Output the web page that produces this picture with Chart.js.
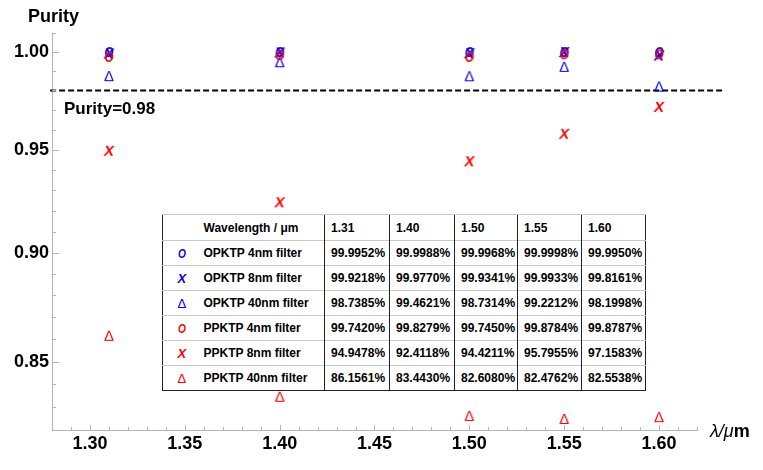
<!DOCTYPE html>
<html>
<head>
<meta charset="utf-8">
<script src="https://cdn.jsdelivr.net/npm/chart.js@4.4.1/dist/chart.umd.min.js"></script>
<style>
  body { margin: 0; background: #fff; }
  #wrap { position: relative; width: 763px; height: 470px; }
  #tbl {
    position: absolute; left: 162px; top: 214px;
    border-collapse: collapse; table-layout: fixed; background: #fff;
    font: bold 12px "Liberation Sans", Arial, sans-serif; color: #000;
    border: 1.5px solid #222;
  }
  #tbl td {
    height: 24px; padding: 0 0 0 6px; white-space: nowrap; overflow: hidden;
    border-top: 1px solid #c8c8c8; border-left: 1.5px solid #222;
  }
  #tbl tr.head td { height: 25px; }
  #tbl td.sym { padding: 0; text-align: center; border-left: none; font-size: 13px; }
  #tbl td.sym span { display: inline-block; }
  #tbl td.name { padding-left: 3px; border-left: none; }
</style>
</head>
<body>
<div id="wrap">
  <canvas id="chart" width="763" height="470"></canvas>
  <table id="tbl">
    <colgroup>
      <col style="width:38px"><col style="width:124px"><col style="width:65px">
      <col style="width:65px"><col style="width:63px"><col style="width:64px"><col style="width:64px">
    </colgroup>
    <tbody id="tbody"></tbody>
  </table>
</div>
<script>
// wavelengths in um
const wavelengths = [1.31, 1.40, 1.50, 1.55, 1.60]

// purity in percent
const opktp4 = [99.9952, 99.9988, 99.9968, 99.9998, 99.9950]
const opktp8 = [99.9218, 99.9770, 99.9341, 99.9933, 99.8161]
const opktp40 = [98.7385, 99.4621, 98.7314, 99.2212, 98.1998]
const ppktp4 = [99.7420, 99.8279, 99.7450, 99.8784, 99.8787]
const ppktp8 = [94.9478, 92.4118, 94.4211, 95.7955, 97.1583]
const ppktp40 = [86.1561, 83.4430, 82.6080, 82.4762, 82.5538]

const seriesNames = ['OPKTP 4nm filter', 'OPKTP 8nm filter', 'OPKTP 40nm filter',
                     'PPKTP 4nm filter', 'PPKTP 8nm filter', 'PPKTP 40nm filter']
const seriesGlyphs = ['O', 'X', 'Δ', 'O', 'X', 'Δ']
const seriesColors = ['#0000ff', '#0000ff', '#0000ff', '#ff0000', '#ff0000', '#ff0000']
const seriesValues = [opktp4, opktp8, opktp40, ppktp4, ppktp8, ppktp40]

// dashed purity limit
const limitValue = 0.98
const limitX = [1.279, 1.634]

const xTickLabels = ['1.30', '1.35', '1.40', '1.45', '1.50', '1.55', '1.60']
const yTickLabels = ['0.85', '0.90', '0.95', '1.00']

const FONT = '"Liberation Sans", Arial, sans-serif'

// marker glyph drawn once into a small canvas, used as pointStyle
const glyph = (ch, color) => {
    const c = document.createElement('canvas')
    c.width = 20
    c.height = 20
    const g = c.getContext('2d')
    g.fillStyle = color
    g.textAlign = 'center'
    if (ch === 'Δ') {
        g.font = '15px ' + FONT
        g.fillText(ch, 10, 15.3)
    } else if (ch === 'O') {
        g.font = 'italic bold 15px ' + FONT
        g.translate(10, 0)
        g.scale(0.78, 1)
        g.fillText(ch, 0, 15.3)
    } else {
        g.font = 'italic bold 15px ' + FONT
        g.fillText(ch, 10, 15.3)
    }
    return c
}

const datasets = seriesValues.map((vals, i) => ({
    label: seriesNames[i],
    data: vals.map((v, j) => ({ x: wavelengths[j], y: v / 100 })),
    pointStyle: glyph(seriesGlyphs[i], seriesColors[i]),
    pointRadius: 5,
    order: seriesColors[i] === '#ff0000' ? 0 : 1
}))

datasets.push({
    label: 'limit',
    data: limitX.map(x => ({ x: x, y: limitValue })),
    showLine: true,
    borderColor: '#000',
    borderWidth: 2,
    borderDash: [6, 3],
    pointRadius: 0,
    clip: false,
    order: 3
})

// tick positions every 0.01
const xTicks = []
for (let i = 128; i <= 162; i++) xTicks.push(i / 100)
const yTicks = []
for (let i = 83; i <= 101; i++) yTicks.push(i / 100)

const axisDecor = {
    id: 'axisDecor',
    afterDraw(chart) {
        const { ctx, chartArea: a, scales: { x, y } } = chart
        ctx.save()
        ctx.strokeStyle = '#b4b4b4'
        ctx.lineWidth = 1
        ctx.beginPath()
        y.ticks.forEach(t => {
            const py = Math.round(y.getPixelForValue(t.value)) + 0.5
            ctx.moveTo(a.left, py)
            ctx.lineTo(a.left + (t.label ? 7 : 4), py)
        })
        x.ticks.forEach(t => {
            const px = Math.round(x.getPixelForValue(t.value)) + 0.5
            ctx.moveTo(px, a.bottom)
            ctx.lineTo(px, a.bottom - (t.label ? 5 : 3))
        })
        ctx.stroke()

        ctx.fillStyle = '#000'
        ctx.font = 'bold 18px ' + FONT
        ctx.fillText('Purity', 28, 22)
        ctx.font = 'bold 17px ' + FONT
        ctx.fillText('Purity=0.98', 64, 114)

        ctx.font = 'italic 18px ' + FONT
        ctx.fillText('λ/μ', 710, 437)
        const w = ctx.measureText('λ/μ').width
        ctx.font = 'bold 18px ' + FONT
        ctx.fillText('m', 710 + w, 437)
        ctx.restore()
    }
}

new Chart(document.getElementById('chart'), {
    type: 'scatter',
    data: { datasets: datasets },
    options: {
        responsive: false,
        animation: false,
        layout: { padding: { top: 33, right: 66, left: 0, bottom: 0 } },
        plugins: { legend: { display: false }, tooltip: { enabled: false } },
        scales: {
            x: {
                type: 'linear',
                min: 1.28,
                max: 1.62,
                afterBuildTicks: s => { s.ticks = xTicks.map(v => ({ value: v })) },
                afterFit: s => { s.height = 40 },
                grid: { display: false, drawTicks: false },
                border: { color: '#b4b4b4', width: 1 },
                ticks: {
                    autoSkip: false,
                    maxRotation: 0,
                    padding: 3,
                    color: '#000',
                    font: { family: FONT, size: 18, weight: 'bold' },
                    callback: v => xTickLabels.includes(v.toFixed(2)) ? v.toFixed(2) : ''
                }
            },
            y: {
                type: 'logarithmic',
                min: 0.821,
                max: 1.01,
                afterBuildTicks: s => { s.ticks = yTicks.map(v => ({ value: v })) },
                afterFit: s => { s.width = 52 },
                grid: { display: false, drawTicks: false },
                border: { color: '#b4b4b4', width: 1 },
                ticks: {
                    autoSkip: false,
                    padding: 3,
                    color: '#000',
                    font: { family: FONT, size: 18, weight: 'bold' },
                    callback: v => yTickLabels.includes(v.toFixed(2)) ? v.toFixed(2) : ''
                }
            }
        }
    },
    plugins: [axisDecor]
})

// inset table
const tbody = document.getElementById('tbody')
let html = '<tr class="head"><td class="sym"></td><td class="name">Wavelength / μm</td>'
wavelengths.forEach(w => { html += '<td>' + w.toFixed(2) + '</td>' })
html += '</tr>'
seriesValues.forEach((vals, i) => {
    let style = 'font-style:italic'
    if (seriesGlyphs[i] === 'Δ') style = 'font-weight:normal'
    if (seriesGlyphs[i] === 'O') style += ';transform:scaleX(0.78)'
    html += '<tr><td class="sym" style="color:' + seriesColors[i] + '"><span style="' + style + '">' + seriesGlyphs[i] + '</span></td>'
    html += '<td class="name">' + seriesNames[i] + '</td>'
    vals.forEach(v => { html += '<td>' + v.toFixed(4) + '%</td>' })
    html += '</tr>'
})
tbody.innerHTML = html
</script>
</body>
</html>
